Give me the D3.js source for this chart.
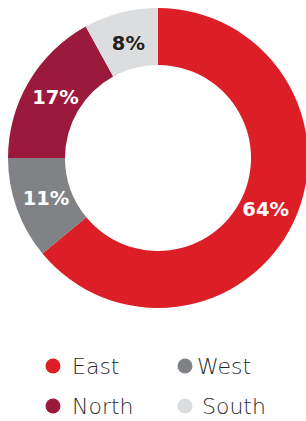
<!DOCTYPE html>
<html>
<head>
<meta charset="utf-8">
<script src="https://cdn.jsdelivr.net/npm/d3@7"></script>
<style>
  body { margin: 0; background: #fff; }
  svg { display: block; }
</style>
</head>
<body>
<div id="chart"></div>
<script>
// Data
const regions = ["East", "West", "North", "South"];
const shares = [64, 11, 17, 8];
const colors = ["#dc1f26", "#808285", "#9b1a3b", "#dcdddf"];
const labelColors = ["#ffffff", "#ffffff", "#ffffff", "#231f20"];

const width = 306, height = 421;
const cx = 158, cy = 158;
const outerR = 150, innerR = 93;

const svg = d3.select("#chart")
    .append("svg")
    .attr("width", width)
    .attr("height", height);

// Pie in data order, clockwise from 12 o'clock
const pie = d3.pie().sort(null).value(d => d.value);
const arcs = pie(regions.map((r, i) => ({ name: r, value: shares[i], i: i })));

const arc = d3.arc().innerRadius(innerR).outerRadius(outerR);
const labelArc = d3.arc().innerRadius(119).outerRadius(119);

const g = svg.append("g").attr("transform", `translate(${cx},${cy})`);

g.selectAll("path")
    .data(arcs)
    .enter()
    .append("path")
    .attr("d", arc)
    .attr("fill", d => colors[d.data.i]);

g.selectAll("text")
    .data(arcs)
    .enter()
    .append("text")
    .attr("transform", d => `translate(${labelArc.centroid(d)})`)
    .attr("text-anchor", "middle")
    .attr("dy", "0.36em")
    .attr("font-family", "'DejaVu Sans', sans-serif")
    .attr("font-weight", 700)
    .attr("font-size", 19.5)
    .attr("fill", d => labelColors[d.data.i])
    .text(d => d.data.value + "%");

// Legend, 2 columns
const legendX = d3.scalePoint().domain([0, 1]).range([53, 185]);
const legendY = d3.scalePoint().domain([0, 1]).range([366, 406]);
const textGap = [19, 12, 19, 17];

const items = svg.selectAll(".legend")
    .data(regions)
    .enter()
    .append("g")
    .attr("class", "legend")
    .attr("transform", (d, i) => `translate(${legendX(i % 2)},${legendY(Math.floor(i / 2))})`);

items.append("circle")
    .attr("r", 7.5)
    .attr("fill", (d, i) => colors[i]);

items.append("text")
    .attr("x", (d, i) => textGap[i])
    .attr("dy", "0.36em")
    .attr("font-family", "'DejaVu Sans', sans-serif")
    .attr("font-weight", 200)
    .attr("font-size", 22)
    .attr("fill", "#2b2b2d")
    .text(d => d);
</script>
</body>
</html>
